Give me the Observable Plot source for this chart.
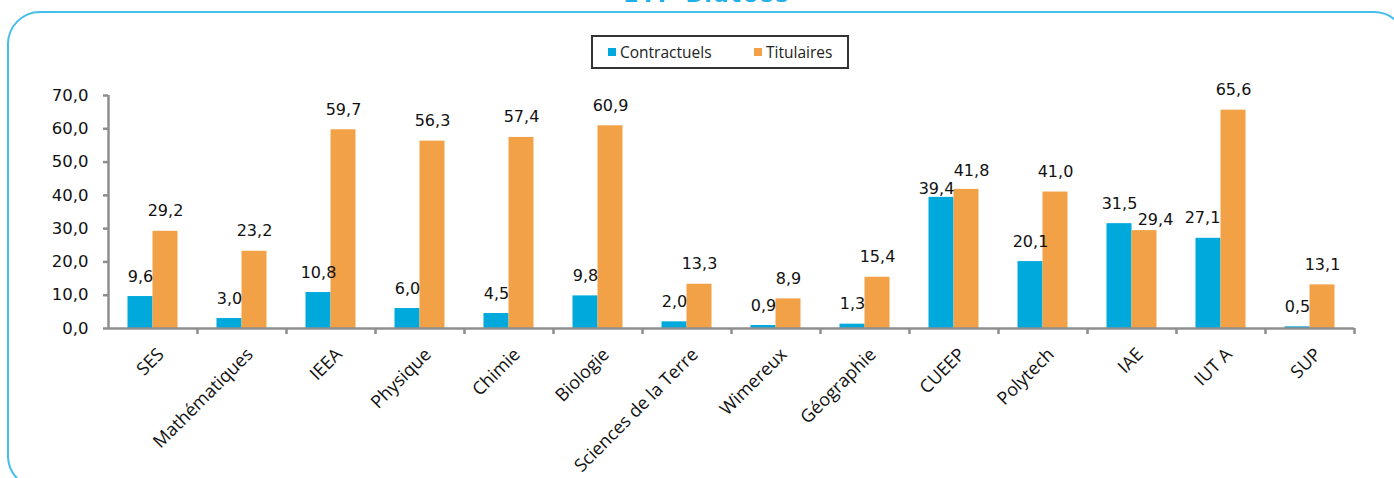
<!DOCTYPE html>
<html>
<head>
<meta charset="utf-8">
<script src="https://cdn.jsdelivr.net/npm/d3@7"></script>
<script src="https://cdn.jsdelivr.net/npm/@observablehq/plot@0.6"></script>
<style>
  html, body { margin: 0; padding: 0; background: #fff; }
  #wrap { position: relative; width: 1394px; height: 478px; overflow: hidden; }
  #frame { position: absolute; left: 0; top: 0; }
  #title { position: absolute; left: 0; width: 1414px; top: -18px; height: 22px; line-height: 22px; text-align: center;
           font: bold 22px "DejaVu Sans", sans-serif; color: #1FB0E6; letter-spacing: 2px; white-space: nowrap; }
  #legend { position: absolute; left: 591px; top: 35px; width: 254px; height: 30px;
            border: 2px solid #333; box-sizing: content-box;
            font: 15.5px "Open Sans", sans-serif; color: #222; }
  .item { position: absolute; top: 4px; display: flex; align-items: center; }
  .sw { width: 8px; height: 8px; margin-right: 4px; }
  #chart { position: absolute; left: 0; top: 0; }
</style>
</head>
<body>
<div id="wrap">
  <svg id="frame" width="1394" height="478">
    <rect x="8" y="12" width="1398" height="476" rx="32" ry="32" fill="none" stroke="#45BEEC" stroke-width="2"/>
  </svg>
  <div id="title">ETP Biatoss</div>
  <div id="legend"></div>
  <div id="chart"></div>
</div>
<script>
const categories = ["SES", "Mathématiques", "IEEA", "Physique", "Chimie", "Biologie",
  "Sciences de la Terre", "Wimereux", "Géographie", "CUEEP", "Polytech", "IAE", "IUT A", "SUP"];
const contractuels = [9.6, 3.0, 10.8, 6.0, 4.5, 9.8, 2.0, 0.9, 1.3, 39.4, 20.1, 31.5, 27.1, 0.5];
const titulaires = [29.2, 23.2, 59.7, 56.3, 57.4, 60.9, 13.3, 8.9, 15.4, 41.8, 41.0, 29.4, 65.6, 13.1];
const seriesNames = ["Contractuels", "Titulaires"];
const seriesColors = ["#00A9DB", "#F2A146"];
const yTicks = [0, 10, 20, 30, 40, 50, 60, 70];

const fmt = v => v.toFixed(1).replace(".", ",");
const rowsC = categories.map((c, i) => ({cat: c, value: contractuels[i]}));
const rowsT = categories.map((c, i) => ({cat: c, value: titulaires[i]}));

// legend
const legend = document.getElementById("legend");
[[608, 0], [754, 1]].forEach(([x, i]) => {
  const it = document.createElement("div");
  it.className = "item";
  it.style.left = (x - 593) + "px";
  it.innerHTML = `<span class="sw" style="background:${seriesColors[i]}"></span><span>${seriesNames[i]}</span>`;
  legend.appendChild(it);
});

const gray = "#8E8E8E";
const half = 44.5; // half band
const first = () => categories[0];
const valFont = {fontFamily: "DejaVu Sans", fontSize: 16, fill: "#111", lineAnchor: "bottom"};
const label = d => fmt(d.value);
const isCat = (rows, names) => rows.filter(d => names.includes(d.cat));
const notCat = (rows, names) => rows.filter(d => !names.includes(d.cat));

const chart = Plot.plot({
  width: 1394,
  height: 478,
  marginTop: 95,
  marginBottom: 150,
  marginLeft: 108,
  marginRight: 40,
  style: {background: "transparent", overflow: "visible"},
  x: {domain: categories, padding: 0, axis: null},
  y: {domain: [0, 70], axis: null},
  marks: [
    Plot.barY(rowsC, {x: "cat", y: "value", fill: seriesColors[0], insetLeft: 19.5, insetRight: 44.5}),
    Plot.barY(rowsT, {x: "cat", y: "value", fill: seriesColors[1], insetLeft: 44.5, insetRight: 19.5}),
    // axis lines
    Plot.ruleY([0], {stroke: gray, strokeWidth: 2.5}),
    Plot.ruleX([categories[0]], {dx: -half, y1: 0, y2: 70, stroke: gray, strokeWidth: 2.5}),
    // x ticks at band boundaries
    Plot.ruleX(categories.slice(1), {dx: -half, y1: 0, y2: 0, insetBottom: -6, stroke: gray, strokeWidth: 2.5}),
    Plot.ruleX([categories[categories.length - 1]], {dx: half, y1: 0, y2: 0, insetBottom: -6, stroke: gray, strokeWidth: 2.5}),
    // y ticks and labels
    Plot.tickY(yTicks, {y: d => d, x: first, dx: -89, insetLeft: 84, stroke: gray, strokeWidth: 2.5}),
    Plot.text(yTicks, {y: d => d, x: first, dx: -half - 20, text: d => fmt(d), textAnchor: "end",
      fontFamily: "DejaVu Sans", fontSize: 16.5, fill: "#111"}),
    // value labels (labels that collide with a neighbour are nudged, as in the original)
    Plot.text(notCat(rowsC, ["CUEEP", "IUT A"]), {x: "cat", y: "value", text: label, dx: -12.5, dy: -15, ...valFont}),
    Plot.text(isCat(rowsC, ["CUEEP"]), {x: "cat", y: "value", text: label, dx: -17.5, dy: -3, ...valFont}),
    Plot.text(isCat(rowsC, ["IUT A"]), {x: "cat", y: "value", text: label, dx: -18.5, dy: -15, ...valFont}),
    Plot.text(notCat(rowsT, ["CUEEP", "IAE"]), {x: "cat", y: "value", text: label, dx: 12.5, dy: -15, ...valFont}),
    Plot.text(isCat(rowsT, ["CUEEP"]), {x: "cat", y: "value", text: label, dx: 17.5, dy: -13, ...valFont}),
    Plot.text(isCat(rowsT, ["IAE"]), {x: "cat", y: "value", text: label, dx: 23.5, dy: -6, ...valFont}),
    // category labels
    Plot.text(categories, {x: d => d, y: 0, text: d => d, rotate: -45, textAnchor: "end", lineAnchor: "top",
      dx: 3, dy: 18, fontFamily: "Open Sans", fontSize: 18, fill: "#111"})
  ]
});
document.getElementById("chart").appendChild(chart);
</script>
</body>
</html>
